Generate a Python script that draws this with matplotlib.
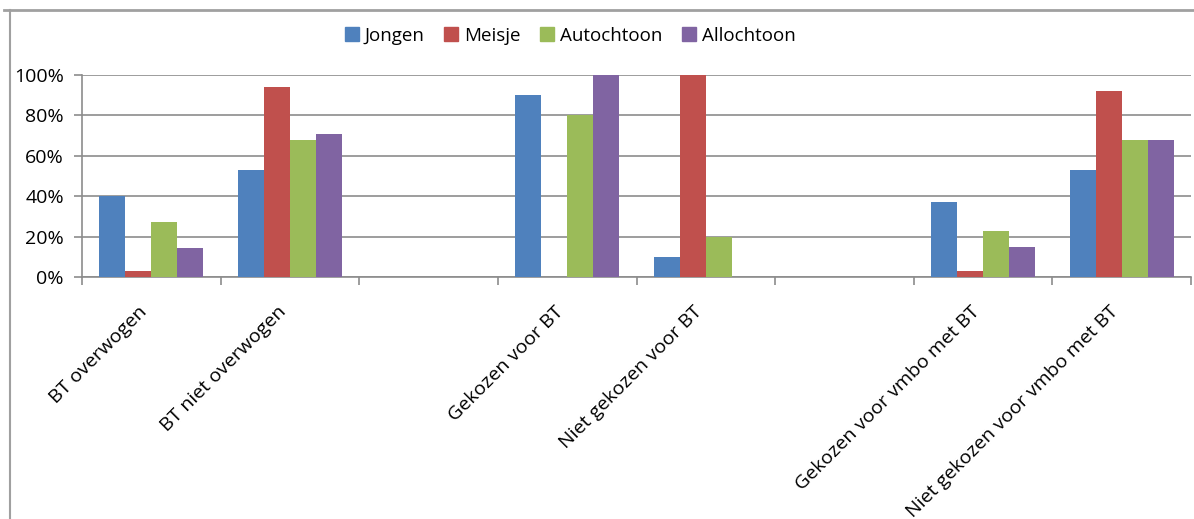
import matplotlib
matplotlib.use("Agg")
import matplotlib.pyplot as plt
import numpy as np
from matplotlib.lines import Line2D
from matplotlib.ticker import FuncFormatter
from matplotlib.transforms import offset_copy

categories = ["BT overwogen", "BT niet overwogen", "", "Gekozen voor BT",
              "Niet gekozen voor BT", "", "Gekozen voor vmbo met BT",
              "Niet gekozen voor vmbo met BT"]
series_names = ["Jongen", "Meisje", "Autochtoon", "Allochtoon"]
jongen = [40, 53, 0, 90, 10, 0, 37, 53]
meisje = [3, 94, 0, 0, 100, 0, 3, 92]
autochtoon = [27, 68, 0, 80, 20, 0, 23, 68]
allochtoon = [14.5, 71, 0, 100, 0, 0, 15, 68]
y_ticks = [0, 20, 40, 60, 80, 100]

colors = ["#4F81BD", "#C0504D", "#9BBB59", "#8064A2"]
plt.rcParams['font.family'] = ['Open Sans', 'DejaVu Sans']

fig = plt.figure(figsize=(11.94, 5.19), dpi=100)
ax = fig.add_axes([82/1194, 1-277/519, (1191-82)/1194, (277-75)/519])

data = [jongen, meisje, autochtoon, allochtoon]
x = np.arange(len(categories))
bw = 0.1876
for i, (vals, c, name) in enumerate(zip(data, colors, series_names)):
    ax.bar(x + (i - 1.5) * bw, vals, width=bw, color=c, label=name, zorder=3)

ax.set_xlim(-0.5, len(categories) - 0.5)
ax.set_ylim(0, 100)
ax.set_yticks(y_ticks)
ax.yaxis.set_major_formatter(FuncFormatter(lambda v, p: f"{int(v)}%"))
ax.grid(axis='y', color='#8c8c8c', linewidth=1.2, zorder=0)
for s in ['top', 'right']:
    ax.spines[s].set_visible(False)
for s in ['left', 'bottom']:
    ax.spines[s].set_color('#8c8c8c')
    ax.spines[s].set_linewidth(1.2)

ax.set_xticks(np.arange(len(categories) + 1) - 0.5)
ax.set_xticklabels([])
ax.tick_params(axis='x', which='major', length=6, color='#8c8c8c', width=1.2)
ax.tick_params(axis='y', length=6, color='#8c8c8c', width=1.2, labelsize=14, pad=7)

trans = offset_copy(ax.get_xaxis_transform(), fig=fig, x=-13, y=-26, units='dots')
for xi, lab in zip(x, categories):
    ax.text(xi, 0, lab, transform=trans, rotation=45, ha='right', va='top',
            rotation_mode='anchor', fontsize=14)

handles = [Line2D([], [], marker='s', linestyle='none', markersize=10,
                  markerfacecolor=c, markeredgecolor=c) for c in colors]
fig.legend(handles, series_names, loc='center', bbox_to_anchor=(569/1194, 1-36/519),
           ncol=4, frameon=False, fontsize=13.5, handletextpad=0.2, columnspacing=0.9,
           handlelength=1.0)

fig.add_artist(Line2D([4/1194, 1], [1-10/519, 1-10/519], transform=fig.transFigure,
                      color='#a0a0a0', linewidth=2))
fig.add_artist(Line2D([10/1194, 10/1194], [0, 1-10/519], transform=fig.transFigure,
                      color='#a0a0a0', linewidth=1.5))

fig.savefig("out.png", dpi=100)
